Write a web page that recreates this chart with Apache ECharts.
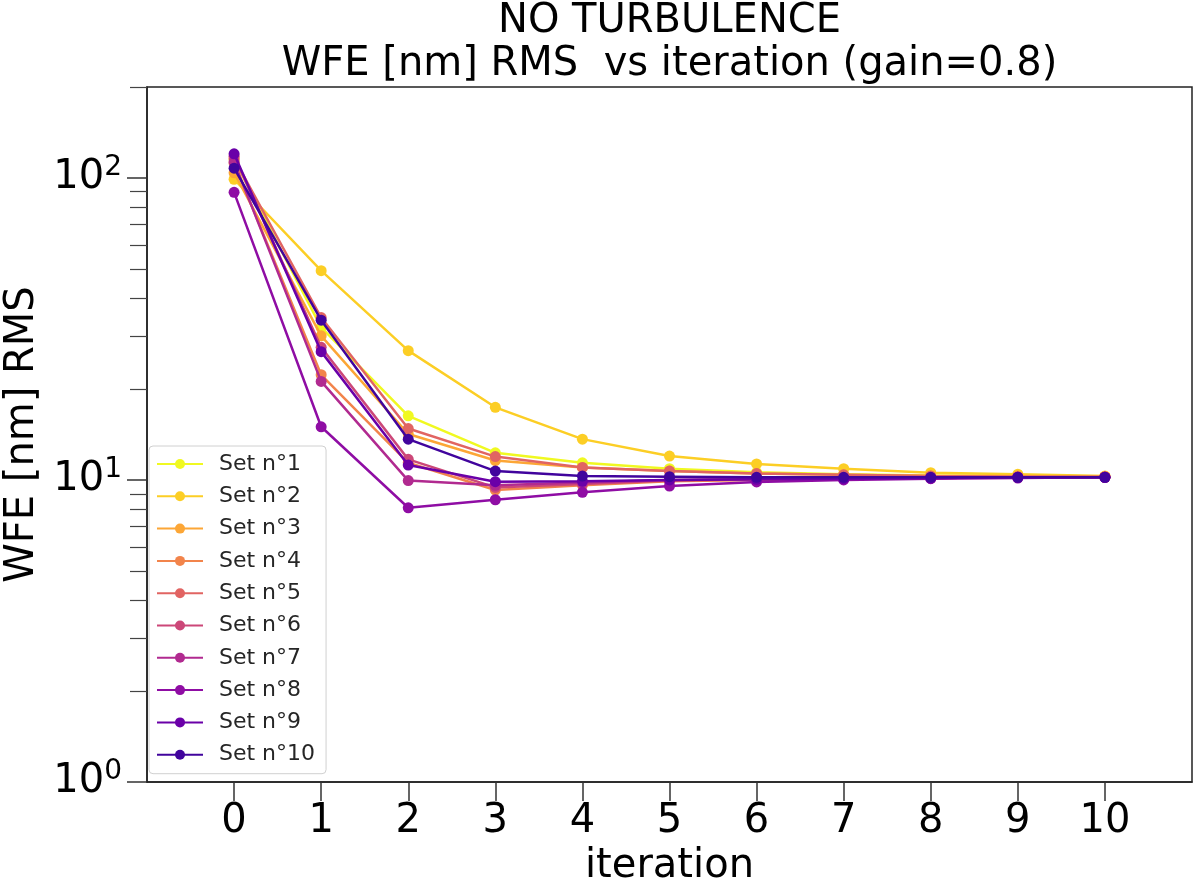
<!DOCTYPE html>
<html>
<head>
<meta charset="utf-8">
<script src="https://cdn.jsdelivr.net/npm/echarts@6/dist/echarts.min.js"></script>
<style>
html,body{margin:0;padding:0;background:#fff;}
#chart{width:1200px;height:886px;}
</style>
</head>
<body>
<div id="chart"></div>
<script>
const iterations = [0,1,2,3,4,5,6,7,8,9,10];
const seriesNames = ['Set n°1','Set n°2','Set n°3','Set n°4','Set n°5','Set n°6','Set n°7','Set n°8','Set n°9','Set n°10'];
const set1  = [115, 32.0, 16.3, 12.3, 11.4, 10.9, 10.6, 10.45, 10.35, 10.3, 10.25];
const set2  = [99, 49.3, 26.8, 17.4, 13.65, 12.0, 11.3, 10.9, 10.57, 10.45, 10.3];
const set3  = [104, 30.0, 14.2, 11.6, 11.0, 10.7, 10.5, 10.4, 10.3, 10.3, 10.25];
const set4  = [112, 22.3, 11.4, 9.26, 9.6, 9.9, 10.0, 10.1, 10.15, 10.2, 10.2];
const set5  = [116, 34.5, 14.8, 11.95, 11.0, 10.7, 10.5, 10.4, 10.3, 10.25, 10.25];
const set6  = [118, 27.5, 11.7, 9.45, 9.7, 9.95, 10.05, 10.1, 10.15, 10.2, 10.2];
const set7  = [113, 21.2, 9.95, 9.6, 9.8, 10.0, 10.05, 10.1, 10.15, 10.2, 10.2];
const set8  = [89.6, 15.0, 8.09, 8.6, 9.1, 9.55, 9.85, 10.0, 10.1, 10.15, 10.2];
const set9  = [120.2, 26.6, 11.2, 9.87, 9.9, 10.0, 10.05, 10.1, 10.15, 10.2, 10.2];
const set10 = [107.7, 33.8, 13.65, 10.7, 10.3, 10.25, 10.2, 10.2, 10.2, 10.2, 10.2];
const allSets = [set1,set2,set3,set4,set5,set6,set7,set8,set9,set10];
const colors = ['#f0f921','#fcce25','#fca636','#f2844b','#e16462','#cc4778','#b12a90','#8f0da4','#6a00a8','#41049d'];
const xTicks = [0,1,2,3,4,5,6,7,8,9,10];
const yMajorTicks = [1,10,100];
const yMinorTicks = [2,3,4,5,6,7,8,9,20,30,40,50,60,70,80,90,200];
const expLabels = {1:'0',10:'1',100:'2'};

const chart = echarts.init(document.getElementById('chart'), null, {renderer:'canvas'});
const series = allSets.map((vals, i) => ({
  name: seriesNames[i],
  type: 'line',
  data: vals.map((v, k) => [iterations[k], v]),
  symbol: 'circle',
  symbolSize: 11,
  showSymbol: true,
  color: colors[i],
  lineStyle: {width: 2.5, color: colors[i]},
  itemStyle: {color: colors[i]},
  emphasis: {disabled: true},
  z: 2 + i
}));

chart.setOption({
  animation: false,
  textStyle: {fontFamily: 'DejaVu Sans'},
  title: {
    text: 'NO TURBULENCE\nWFE [nm] RMS  vs iteration (gain=0.8)',
    left: 669.5,
    top: 0,
    padding: 0,
    textAlign: 'center',
    textStyle: {fontSize: 40, fontWeight: 'normal', color: '#000', lineHeight: 43, fontFamily: 'DejaVu Sans'}
  },
  grid: {
    left: 147, right: 8, top: 87, bottom: 104,
    show: true, borderColor: '#222', borderWidth: 1.5, backgroundColor: '#fff',
    outerBoundsMode: 'none', containLabel: false
  },
  legend: {
    orient: 'vertical',
    left: 149, top: 446,
    padding: [6, 11, 7, 7],
    itemWidth: 46, itemHeight: 12.5, itemGap: 8.3,
    backgroundColor: '#fff',
    borderColor: '#d0d0d0', borderWidth: 1, borderRadius: 4,
    textStyle: {fontSize: 22, color: '#262626', lineHeight: 24, padding: [0,0,0,11], fontFamily: 'DejaVu Sans'},
    data: seriesNames
  },
  xAxis: {
    type: 'value', min: -1, max: 11, interval: 1,
    name: 'iteration', nameLocation: 'middle', nameGap: 62,
    nameTextStyle: {fontSize: 40, color: '#000', fontFamily: 'DejaVu Sans'},
    axisLine: {show: true, onZero: false, lineStyle: {color: '#222', width: 1.5}},
    axisTick: {show: true, length: 19, customValues: xTicks, lineStyle: {color: '#333', width: 1.5}},
    axisLabel: {customValues: xTicks, fontSize: 40, color: '#000', margin: 20, fontFamily: 'DejaVu Sans'},
    splitLine: {show: false}
  },
  yAxis: [{
    type: 'log', logBase: 10, min: 1, max: 200, position: 'left',
    name: 'WFE [nm] RMS', nameLocation: 'middle', nameGap: 90, nameRotate: 90,
    nameTextStyle: {fontSize: 40, color: '#000', fontFamily: 'DejaVu Sans'},
    axisLine: {show: true, onZero: false, lineStyle: {color: '#222', width: 1.5}},
    axisTick: {show: true, length: 20, customValues: yMajorTicks, lineStyle: {color: '#333', width: 1.5}},
    axisLabel: {
      customValues: yMajorTicks, margin: 25,
      formatter: function (v) { return '{b|10}{s|' + (expLabels[Math.round(v)] || '') + '}'; },
      rich: {
        b: {fontSize: 40, color: '#000', lineHeight: 48, fontFamily: 'DejaVu Sans'},
        s: {fontSize: 28, color: '#000', lineHeight: 28, verticalAlign: 'top', fontFamily: 'DejaVu Sans'}
      }
    },
    splitLine: {show: false}
  }, {
    type: 'log', logBase: 10, min: 1, max: 200, position: 'left',
    axisLine: {show: false, onZero: false},
    axisTick: {show: true, length: 17, customValues: yMinorTicks, lineStyle: {color: '#444', width: 1.2}},
    axisLabel: {show: false},
    splitLine: {show: false}
  }],
  series: series
});
</script>
</body>
</html>
